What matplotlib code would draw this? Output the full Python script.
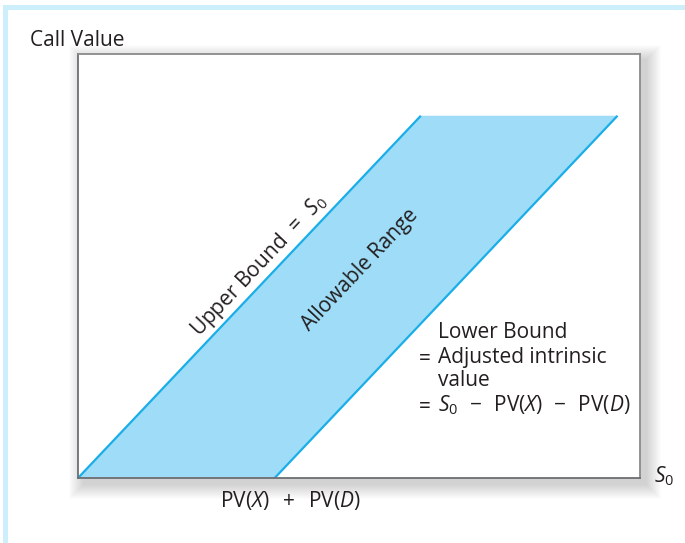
import numpy as np
import matplotlib.pyplot as plt
from matplotlib.patches import Rectangle

plt.rcParams["font.family"] = ["Open Sans", "DejaVu Sans"]
plt.rcParams["mathtext.fontset"] = "custom"
plt.rcParams["mathtext.rm"] = "Open Sans"
plt.rcParams["mathtext.it"] = "Open Sans:italic"

# stock price axis and the two bounds (arbitrary units)
s0_upper = [0, 61]
upper_bound = [0, 61]
pv_sum = 35
s0_lower = [35, 96]
lower_bound = [0, 61]

x_max = 100
y_max = 71.4

line_col = "#1aaee8"
fill_col = "#9edcf7"
text_col = "#231f20"

W, H = 685, 543
fig = plt.figure(figsize=(W / 100, H / 100), dpi=100)

# box position in pixels
bx0, by0, bx1, by1 = 78, 478, 640, 54
ax = fig.add_axes([bx0 / W, 1 - by0 / H, (bx1 - bx0) / W, (by0 - by1) / H])

# soft drop shadow behind the box
for k in range(1, 16):
    fig.patches.append(Rectangle(((bx0 + 6 - k) / W, 1 - (by0 + 6 + k) / H),
                                 (bx1 - bx0 + 2 * k) / W, (by0 - by1 + 2 * k) / H,
                                 transform=fig.transFigure, facecolor="black",
                                 edgecolor="none", alpha=0.013, zorder=-5))

# light blue frame at the top and left of the figure
fig.patches.append(Rectangle((3 / W, 1 - 10 / H), 1, 5 / H, transform=fig.transFigure,
                             facecolor="#cdeefb", edgecolor="none", zorder=-6))
fig.patches.append(Rectangle((3 / W, 0), 5 / W, 1 - 5 / H, transform=fig.transFigure,
                             facecolor="#cdeefb", edgecolor="none", zorder=-6))

poly_x = [s0_upper[0], s0_upper[1], s0_lower[1], s0_lower[0]]
poly_y = [upper_bound[0], upper_bound[1], lower_bound[1], lower_bound[0]]
ax.fill(poly_x, poly_y, color=fill_col, lw=0)
ax.plot(s0_upper, upper_bound, color=line_col, lw=1.6, solid_capstyle="butt")
ax.plot(s0_lower, lower_bound, color=line_col, lw=1.6, solid_capstyle="butt")

ax.set_xlim(0, x_max)
ax.set_ylim(0, y_max)
ax.set_xticks([])
ax.set_yticks([])
for side, sp in ax.spines.items():
    sp.set_color("#6d6e71" if side in ("left", "bottom") else "#8a8a8a")
    sp.set_linewidth(1.3)


def px(x, y):
    # pixel position -> figure fraction
    return x / W, 1 - y / H


fs = 15
fig.text(*px(30, 40), "Call Value", fontsize=fs, color=text_col, va="center", ha="left")
fig.text(*px(654, 476), "$S_0$", fontsize=fs, color=text_col, va="center", ha="left")
fig.text(*px(220, 500), r"PV($X$) $\;+\;$ PV($D$)", fontsize=fs, color=text_col,
         va="center", ha="left")

angle = np.degrees(np.arctan2(362, 342))
fig.text(*px(259, 265), r"Upper Bound $\,=\,$ $S_0$", fontsize=fs, color=text_col,
         rotation=angle, ha="center", va="center", rotation_mode="anchor")
fig.text(*px(360, 270), "Allowable Range", fontsize=fs, color=text_col,
         rotation=angle, ha="center", va="center", rotation_mode="anchor")

lines = ["Lower Bound", "Adjusted intrinsic", "value",
         r"$S_0$ $\,-\,$ PV($X$) $\,-\,$ PV($D$)"]
eqs = ["", "$=$", "", "$=$"]
ys = [332, 357, 380, 405]
for txt, eq, yy in zip(lines, eqs, ys):
    fig.text(*px(438, yy), txt, fontsize=fs, color=text_col, va="center", ha="left")
    if eq:
        fig.text(*px(415, yy), eq, fontsize=fs, color=text_col, va="center", ha="left")

fig.savefig("out.png", dpi=100)
